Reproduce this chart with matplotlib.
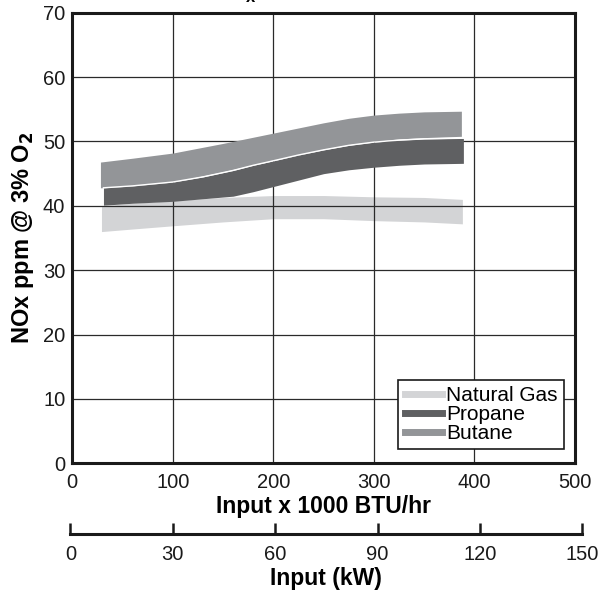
import numpy as np
import matplotlib
matplotlib.use('Agg')
import matplotlib.pyplot as plt
from matplotlib.lines import Line2D

plt.rcParams['font.family'] = ['Liberation Sans', 'DejaVu Sans']

# lecturas del grafico (x en miles de BTU/hr, y en ppm)
x_gas = [29, 60, 100, 150, 200, 250, 300, 350, 388]
gas_sup = [40.0, 40.4, 40.8, 41.3, 41.6, 41.6, 41.4, 41.3, 41.0]
gas_inf = [36.0, 36.4, 36.9, 37.5, 38.0, 38.0, 37.7, 37.5, 37.2]

x_butano = [28, 60, 100, 150, 175, 200, 225, 250, 275, 300, 325, 350, 387]
butano_sup = [46.8, 47.4, 48.2, 49.7, 50.5, 51.3, 52.1, 52.9, 53.6, 54.1, 54.4, 54.6, 54.7]
butano_inf = [42.8, 43.1, 43.7, 45.3, 46.2, 47.1, 47.9, 48.8, 49.5, 50.0, 50.4, 50.6, 50.8]

x_propano = [31, 60, 100, 130, 160, 180, 200, 225, 250, 275, 300, 325, 350, 389]
propano_sup = [42.8, 43.1, 43.7, 44.5, 45.5, 46.3, 47.0, 47.9, 48.7, 49.4, 49.9, 50.2, 50.4, 50.5]
propano_inf = [40.1, 40.4, 40.7, 41.1, 41.5, 42.2, 43.0, 44.0, 45.0, 45.6, 46.0, 46.3, 46.5, 46.6]

etiquetas = ['Natural Gas', 'Propane', 'Butane']
colores = ['#d3d4d6', '#5f6062', '#939598']

ticks_btu = [0, 100, 200, 300, 400, 500]
ticks_ppm = [0, 10, 20, 30, 40, 50, 60, 70]
ticks_kw = [0, 30, 60, 90, 120, 150]

fig = plt.figure(figsize=(6, 5.92), dpi=100)
ax = fig.add_axes([0.1205, 0.2174, 0.8378, 0.7611])

ax.fill_between(x_gas, gas_inf, gas_sup, color=colores[0], linewidth=0, zorder=2)
ax.fill_between(x_butano, butano_inf, butano_sup, color=colores[2], linewidth=0, zorder=3)
ax.fill_between(x_propano, propano_inf, propano_sup, color=colores[1], linewidth=0, zorder=4)
ax.plot(x_propano, propano_sup, color='white', linewidth=1.0, zorder=5)

ax.set_xlim(0, 500)
ax.set_ylim(0, 70)
ax.set_xticks(ticks_btu)
ax.set_yticks(ticks_ppm)
ax.grid(True, color='#2a2a2a', linewidth=0.9, zorder=1)
ax.set_axisbelow(False)
for sp in ax.spines.values():
    sp.set_linewidth(2.2)
    sp.set_color('#1a1a1a')
    sp.set_zorder(6)
ax.tick_params(length=0, labelsize=14.5, colors='#1a1a1a')
ax.tick_params(axis='x', pad=7)
ax.tick_params(axis='y', pad=5)
ax.set_xlabel('Input x 1000 BTU/hr', fontsize=16.5, fontweight='bold', labelpad=2)
ax.set_ylabel('NOx ppm @ 3% O$_\\mathbf{2}$', fontsize=17, fontweight='bold', labelpad=5)

manejadores = [Line2D([0], [0], color=c, linewidth=5) for c in colores]
leg = ax.legend(manejadores, etiquetas, loc='lower right', bbox_to_anchor=(0.978, 0.031),
                borderaxespad=0, fontsize=15, handlelength=1.8, handletextpad=0.2,
                labelspacing=0.0, borderpad=0.3, fancybox=False, framealpha=1)
leg.get_frame().set_edgecolor('#1a1a1a')
leg.get_frame().set_linewidth(1.2)
leg.set_zorder(7)

# eje secundario en kW
ax2 = fig.add_axes([0.1172, 0.0975, 0.8533, 0.02])
ax2.set_xlim(0, 150)
ax2.set_xticks(ticks_kw)
ax2.set_yticks([])
ax2.patch.set_alpha(0)
for nombre in ['top', 'left', 'right']:
    ax2.spines[nombre].set_visible(False)
ax2.spines['bottom'].set_linewidth(2.2)
ax2.spines['bottom'].set_color('#1a1a1a')
ax2.tick_params(axis='x', direction='in', length=8, width=1.8, labelsize=14.5, pad=8, colors='#1a1a1a')
ax2.set_xlabel('Input (kW)', fontsize=16.5, fontweight='bold', labelpad=2)

fig.text(0.417, 1.004, 'x', fontsize=12, fontweight='bold', ha='center', va='center')

fig.savefig('out.png', dpi=100)
